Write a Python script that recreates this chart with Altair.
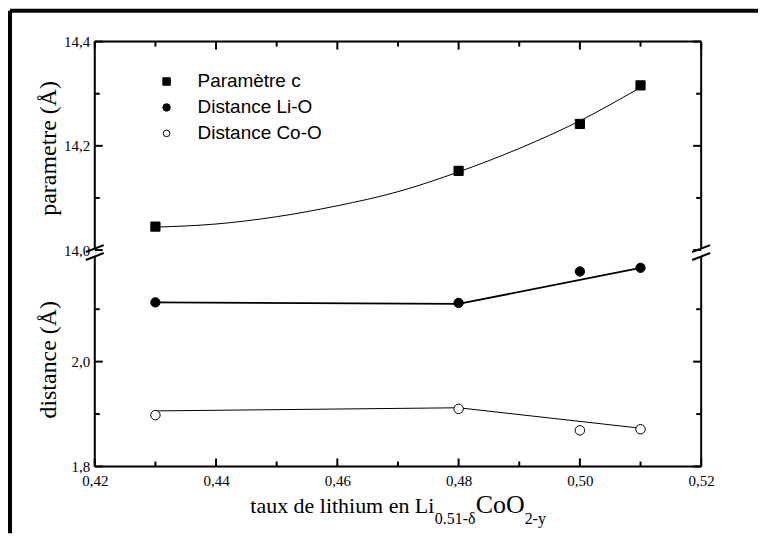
import altair as alt
import pandas as pd

# ---- data ----
x_vals = [0.43, 0.48, 0.50, 0.51]
param_c = [14.045, 14.152, 14.242, 14.316]
dist_lio = [2.113, 2.112, 2.172, 2.179]
dist_coo = [1.898, 1.910, 1.869, 1.871]

series = ["Paramètre c", "Distance Li-O", "Distance Co-O"]
shapes = ["square", "circle", "circle"]
fills = ["black", "black", "white"]

# fitted curves
fit_param_x = [0.43, 0.44, 0.45, 0.46, 0.47, 0.48, 0.49, 0.50, 0.51]
fit_param_y = [14.044, 14.050, 14.064, 14.085, 14.112, 14.150, 14.195, 14.248, 14.312]
fit_lio_x = [0.43, 0.48, 0.51]
fit_lio_y = [2.113, 2.110, 2.179]
fit_coo_x = [0.43, 0.48, 0.51]
fit_coo_y = [1.906, 1.912, 1.873]

# axis ticks
y_major = [1.8, 2.0, 14.0, 14.2, 14.4]
y_minor = [1.9, 2.1, 14.1, 14.3]
x_major = [0.42, 0.44, 0.46, 0.48, 0.50, 0.52]
x_minor = [0.43, 0.45, 0.47, 0.49, 0.51]

title_param = "parametre (Å)"
title_dist = "distance (Å)"
xtitle_parts = ["taux de lithium en Li", "0.51-δ", "CoO", "2-y"]

# ---- tables ----
pts = pd.DataFrame({
    "x": x_vals * 3,
    "y": param_c + dist_lio + dist_coo,
    "series": [series[0]] * 4 + [series[1]] * 4 + [series[2]] * 4,
})
fit_param = pd.DataFrame({"x": fit_param_x, "y": fit_param_y})
fit_lio = pd.DataFrame({"x": fit_lio_x, "y": fit_lio_y})
fit_coo = pd.DataFrame({"x": fit_coo_x, "y": fit_coo_y})

W, H = 608, 426
SERIF = "Liberation Serif"

xscale = alt.Scale(domain=[0.42, 0.52], nice=False, zero=False)
yscale = alt.Scale(domain=[1.8, 2.19, 14.0, 14.4], range=[H, 221, 209, 0], nice=False, zero=False)

comma = "replace(format(datum.value, '.2f'), '.', ',')"
comma1 = "replace(format(datum.value, '.1f'), '.', ',')"

X = alt.X("x:Q", scale=xscale, axis=alt.Axis(
    values=x_major, labelExpr=comma, ticks=False, domain=False, grid=False, title=None,
    labelFont=SERIF, labelFontSize=15, labelColor="black", labelPadding=7, labelFlush=False))
Y = alt.Y("y:Q", scale=yscale, axis=alt.Axis(
    values=y_major, labelExpr=comma1, ticks=False, domain=False, grid=False, title=None,
    labelFont=SERIF, labelFontSize=15, labelColor="black", labelPadding=5, labelFlush=False))

points = alt.Chart(pts).mark_point(opacity=1, stroke="black", strokeWidth=1).encode(
    x=X, y=Y,
    shape=alt.Shape("series:N", scale=alt.Scale(domain=series, range=shapes), legend=None),
    fill=alt.Fill("series:N", scale=alt.Scale(domain=series, range=fills), legend=None),
    size=alt.Size("series:N", scale=alt.Scale(domain=series, range=[85, 90, 62]), legend=None),
)

line_param = alt.Chart(fit_param).mark_line(color="black", strokeWidth=1, interpolate="monotone").encode(
    x=alt.X("x:Q", scale=xscale), y=alt.Y("y:Q", scale=yscale))
line_lio = alt.Chart(fit_lio).mark_line(color="black", strokeWidth=1.8).encode(
    x=alt.X("x:Q", scale=xscale), y=alt.Y("y:Q", scale=yscale))
line_coo = alt.Chart(fit_coo).mark_line(color="black", strokeWidth=1).encode(
    x=alt.X("x:Q", scale=xscale), y=alt.Y("y:Q", scale=yscale))

one = pd.DataFrame({"a": [0]})


def rule(**enc):
    return alt.Chart(one).mark_rule(color="black", strokeWidth=2).encode(
        **{k: alt.value(v) for k, v in enc.items()})


layers = [line_param, line_lio, line_coo]

# inward ticks on the four sides
for vals, ln in ((y_major, 8), (y_minor, 5)):
    d = pd.DataFrame({"v": vals})
    layers.append(alt.Chart(d).mark_rule(color="black", strokeWidth=2).encode(
        y=alt.Y("v:Q", scale=yscale), x=alt.value(0), x2=alt.value(ln)))
    layers.append(alt.Chart(d).mark_rule(color="black", strokeWidth=2).encode(
        y=alt.Y("v:Q", scale=yscale), x=alt.value(W), x2=alt.value(W - ln)))
for vals, ln in ((x_major, 8), (x_minor, 5)):
    d = pd.DataFrame({"v": vals})
    layers.append(alt.Chart(d).mark_rule(color="black", strokeWidth=2).encode(
        x=alt.X("v:Q", scale=xscale), y=alt.value(H), y2=alt.value(H - ln)))
    layers.append(alt.Chart(d).mark_rule(color="black", strokeWidth=2).encode(
        x=alt.X("v:Q", scale=xscale), y=alt.value(0), y2=alt.value(ln)))

# frame with axis breaks
layers += [
    rule(x=0, x2=W, y=0),
    rule(x=0, x2=W, y=H),
    rule(x=0, y=0, y2=208),
    rule(x=0, y=216, y2=H),
    rule(x=W, y=0, y2=208),
    rule(x=W, y=216, y2=H),
]
for cx in (0, W):
    layers.append(rule(x=cx - 9, x2=cx + 9, y=211, y2=204))
    layers.append(rule(x=cx - 9, x2=cx + 9, y=219, y2=212))

# outer figure border (left and top)
layers.append(alt.Chart(one).mark_rule(color="black", strokeWidth=4).encode(
    x=alt.value(-85), y=alt.value(-31), y2=alt.value(493)))
layers.append(alt.Chart(one).mark_rule(color="black", strokeWidth=4).encode(
    x=alt.value(-85), x2=alt.value(665), y=alt.value(-31)))


# titles
def text(t, size, x, y, angle=0, align="left", baseline="alphabetic", font=SERIF):
    return alt.Chart(pd.DataFrame({"t": [t]})).mark_text(
        font=font, fontSize=size, color="black", angle=angle, align=align, baseline=baseline
    ).encode(text="t:N", x=alt.value(x), y=alt.value(y))


layers += [
    text(title_param, 24, -46, 107, angle=270, align="center", baseline="middle"),
    text(title_dist, 24, -46, 319, angle=270, align="center", baseline="middle"),
    text(xtitle_parts[0], 22, 156, 473),
    text(xtitle_parts[1], 16, 341, 484),
    text(xtitle_parts[2], 26, 382, 473),
    text(xtitle_parts[3], 16, 431, 484),
]

# legend (symbol + label per entry)
for i, (name, shp, fl) in enumerate(zip(series, shapes, fills)):
    yy = 40 + 26 * i
    layers.append(alt.Chart(one).mark_point(
        shape=shp, fill=fl, stroke="black", strokeWidth=1, opacity=1, size=56 if i < 2 else 45
    ).encode(x=alt.value(72), y=alt.value(yy)))
    layers.append(text(name, 19, 103, yy, baseline="middle", font="Liberation Sans"))

layers.append(points)

chart = alt.layer(*layers).properties(width=W, height=H, padding=0).configure_view(
    stroke=None).configure(background="white")

chart.save("out.html", embed_options={"renderer": "svg", "actions": False})
